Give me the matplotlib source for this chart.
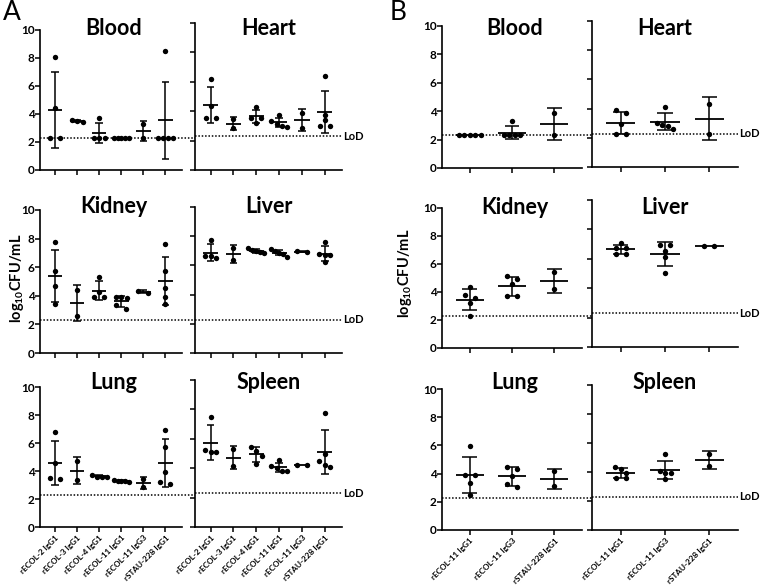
import numpy as np
import matplotlib
matplotlib.use("Agg")
import matplotlib.pyplot as plt
import matplotlib.transforms as mtransforms

plt.rcParams["font.family"] = ["Lato", "DejaVu Sans"]
plt.rcParams["font.weight"] = "bold"
plt.rcParams["mathtext.fontset"] = "custom"
plt.rcParams["mathtext.rm"] = "Lato:bold"
plt.rcParams["mathtext.bf"] = "Lato:bold"

LOD = 2.3

a_labels = ["rECOL-2 IgG1", "rECOL-3 IgG1", "rECOL-4 IgG1",
            "rECOL-11 IgG1", "rECOL-11 IgG3", "rSTAU-228 IgG1"]
b_labels = ["rECOL-11 IgG1", "rECOL-11 IgG3", "rSTAU-228 IgG1"]

# panel A, log10 CFU/mL per mouse
a_blood = [[8.1, 4.4, 2.3, 2.3], [3.45, 3.5, 3.6], [3.75, 2.3, 2.3, 2.3],
           [2.3, 2.3, 2.3, 2.3, 2.3], [3.3, 2.3], [8.5, 2.3, 2.3, 2.3, 2.3]]
a_heart = [[6.2, 4.35, 3.55, 3.55], [3.45, 2.85], [4.25, 3.55, 3.55, 3.2],
           [3.75, 3.3, 3.15, 3.0, 2.95], [3.9, 2.85], [6.4, 3.75, 3.4, 3.0, 3.0]]
a_kidney = [[7.75, 5.7, 4.7, 3.45], [4.4, 2.6], [5.3, 4.3, 3.9, 3.9],
            [3.9, 3.9, 3.85, 3.35, 3.1], [4.2, 4.35], [7.6, 5.75, 4.55, 3.95, 3.4]]
a_liver = [[7.7, 6.65, 6.65, 6.5], [7.2, 6.35], [7.15, 7.05, 6.95, 6.9, 6.85],
           [7.1, 6.95, 6.85, 6.8, 6.6], [6.95, 6.9], [7.6, 6.75, 6.7, 6.7, 6.25]]
a_lung = [[6.8, 4.55, 3.45, 3.5], [4.7, 3.35], [3.75, 3.6, 3.55, 3.6],
          [3.35, 3.3, 3.3, 3.3, 3.25], [3.45, 2.85], [6.95, 5.75, 3.9, 3.1, 3.2]]
a_spleen = [[7.5, 5.25, 5.1, 5.1], [5.3, 4.15], [5.15, 4.85, 5.45, 4.3],
            [4.55, 4.15, 4.0, 3.8, 3.8], [4.2, 4.2], [7.75, 5.0, 4.5, 4.1, 4.25]]

# panel B
b_blood = [[2.3, 2.3, 2.3, 2.3, 2.3], [3.3, 2.3, 2.3, 2.3, 2.3], [3.9, 2.3]]
b_heart = [[3.9, 3.7, 2.95, 2.3, 2.3], [4.1, 3.05, 2.85, 2.9, 2.6], [4.35, 2.3]]
b_kidney = [[4.35, 3.6, 3.8, 3.25, 2.3], [5.15, 4.9, 4.55, 3.7, 3.7], [5.4, 4.2]]
b_liver = [[7.1, 6.72, 6.72, 6.33, 6.33], [6.95, 6.95, 6.55, 6.15, 5.05], [6.85, 6.85]]
b_lung = [[5.95, 3.9, 3.9, 3.35, 2.5], [4.5, 4.35, 3.85, 3.25, 3.05], [4.15, 3.15]]
b_spleen = [[4.35, 4.2, 3.95, 3.6, 3.6], [5.25, 4.1, 3.9, 3.9, 3.55], [5.25, 4.4]]

W, H = 760, 588
fig = plt.figure(figsize=(W / 100, H / 100), dpi=100)


def add_ax(x0, x1, ytop, ybot):
    return fig.add_axes([x0 / W, 1 - ybot / H, (x1 - x0) / W, (ybot - ytop) / H])


def swarm(vals, pxx, pxy, half):
    # spread near-equal values sideways, centred on the group
    order = np.argsort(-vals, kind="stable")
    offs = np.zeros(len(vals))
    clusters, cur = [], [order[0]]
    for a, b in zip(order[:-1], order[1:]):
        if (vals[a] - vals[b]) * pxy < 4.5:
            cur.append(b)
        else:
            clusters.append(cur)
            cur = [b]
    clusters.append(cur)
    for c in clusters:
        n = len(c)
        if n == 1:
            continue
        step = min(10.0, 2 * half) if n == 2 else min(5.5, 2 * half / (n - 1))
        for k, idx in enumerate(c):
            offs[idx] = (k - (n - 1) / 2) * step / pxx
    return offs


def draw_one(ax, groups, xlim, box, left, labels, lod_text, lod_ext):
    x0, x1, ytop, ybot = box
    pxx = (x1 - x0) / (xlim[1] - xlim[0])
    pxy = (ybot - ytop) / 10.0
    for i, vals in enumerate(groups):
        vals = np.asarray(vals, float)
        offs = swarm(vals, pxx, pxy, 0.34 * pxx)
        ax.scatter(i + offs, vals, s=15, color="k", zorder=3, linewidths=0)
        m = vals.mean()
        sd = vals.std(ddof=1) if len(vals) > 1 else 0.0
        ax.hlines(m, i - 0.33, i + 0.33, color="k", lw=1.3, zorder=4)
        if sd > 0:
            ax.vlines(i, m - sd, m + sd, color="k", lw=1.1, zorder=4)
            ax.hlines([m - sd, m + sd], i - 0.17, i + 0.17, color="k", lw=1.1, zorder=4)
    ax.set_xlim(*xlim)
    ax.set_ylim(0, 10)
    ax.plot([xlim[0], xlim[1] + lod_ext], [LOD, LOD], ls=(0, (1, 1.2)), color="k",
            lw=1.1, clip_on=False, zorder=2)
    if lod_text:
        tr = mtransforms.blended_transform_factory(ax.transAxes, ax.transData)
        ax.text(1.01, LOD, "LoD", transform=tr, fontsize=8, fontweight="bold",
                va="center", ha="left")
    for s in ["top", "right"]:
        ax.spines[s].set_visible(False)
    for s in ["left", "bottom"]:
        ax.spines[s].set_linewidth(1.2)
    ax.set_yticks([0, 2, 4, 6, 8, 10])
    ax.set_xticks(range(len(groups)))
    ax.tick_params(width=1.1, length=3.5, labelsize=8.5)
    if left:
        ax.set_yticklabels(["0", "2", "4", "6", "8", "10"], fontweight="bold")
        ax.tick_params(axis="y", pad=0.5)
    else:
        ax.set_yticklabels([])
    if labels is not None:
        ax.set_xticklabels(labels, rotation=45, ha="right", va="top",
                           rotation_mode="anchor", fontsize=5.9, fontweight="bold")
        ax.tick_params(axis="x", pad=1.5)
    else:
        ax.set_xticklabels([])


def titled(name, xc, ybase):
    fig.text(xc / W, 1 - ybase / H, name, ha="center", va="baseline",
             fontsize=15.5, fontweight="bold")


a_xlim = (-0.68, 5.75)
b_xlim = (-0.65, 2.65)

a_rows = [
    (a_blood, "Blood", a_heart, "Heart", (30, 170), (22.7, 170), 35),
    (a_kidney, "Kidney", a_liver, "Liver", (210, 353), (206.7, 353.3), 213),
    (a_lung, "Lung", a_spleen, "Spleen", (387, 527), (380, 527), 389),
]
b_rows = [
    (b_blood, "Blood", b_heart, "Heart", (26, 168), (20.7, 167.3), 35),
    (b_kidney, "Kidney", b_liver, "Liver", (208, 348), (200, 347), 214),
    (b_lung, "Lung", b_spleen, "Spleen", (389, 530), (385, 530), 389),
]


def build(rows, lx, rx, xlim, labels):
    for r, (ld, ln, rd, rn, lyy, ryy, tb) in enumerate(rows):
        last = r == len(rows) - 1
        lbox = (lx[0], lx[1], lyy[0], lyy[1])
        rbox = (rx[0], rx[1], ryy[0], ryy[1])
        axl = add_ax(*lbox)
        axr = add_ax(*rbox)
        ext = (rx[0] - lx[1]) * (xlim[1] - xlim[0]) / (lx[1] - lx[0])
        draw_one(axl, ld, xlim, lbox, True, labels if last else None, False, ext)
        draw_one(axr, rd, xlim, rbox, False, labels if last else None, True, 0.0)
        titled(ln, (lx[0] + lx[1]) / 2 + 3, tb)
        titled(rn, (rx[0] + rx[1]) / 2, tb)


build(a_rows, (40, 182), (195, 342), a_xlim, a_labels)
build(b_rows, (442, 582), (592, 738), b_xlim, b_labels)

ylab = "log$_{10}$CFU/mL"
fig.text(17 / W, 1 - 278 / H, ylab, rotation=90, ha="center", va="center",
         fontsize=10.5, fontweight="bold")
fig.text(405 / W, 1 - 273 / H, ylab, rotation=90, ha="center", va="center",
         fontsize=10.5, fontweight="bold")
fig.text(3 / W, 1 - 20 / H, "A", fontsize=19, fontweight="normal", va="baseline")
fig.text(390 / W, 1 - 20 / H, "B", fontsize=19, fontweight="normal", va="baseline")

fig.savefig("out.png", dpi=100)
